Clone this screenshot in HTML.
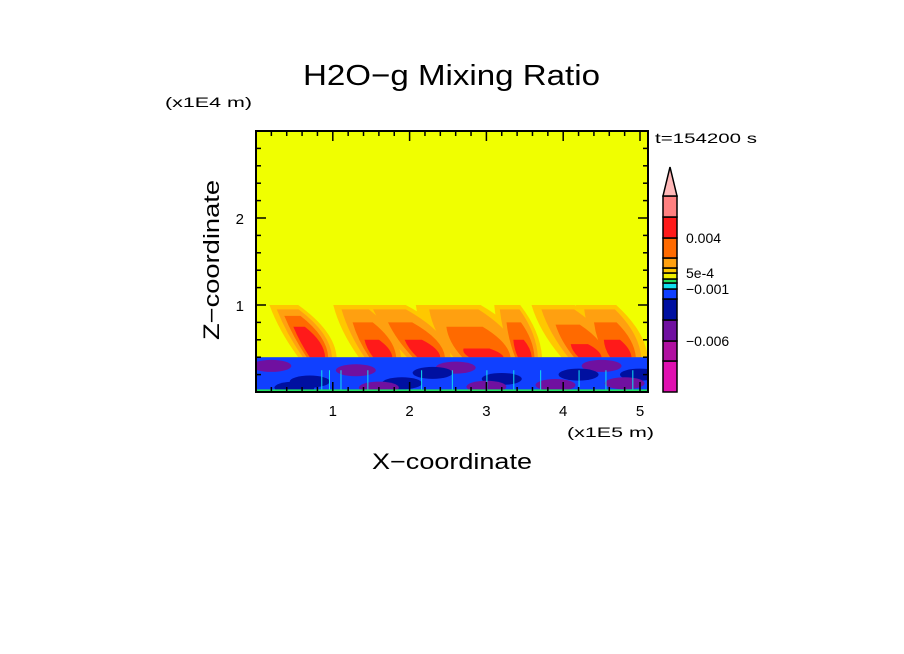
<!DOCTYPE html>
<html><head><meta charset="utf-8"><style>
html,body{margin:0;padding:0;background:#fff;width:904px;height:654px;overflow:hidden}
svg text{font-family:"Liberation Sans",sans-serif;fill:#000}
</style></head><body>
<svg id="chart" width="904" height="654" viewBox="0 0 904 654" xmlns="http://www.w3.org/2000/svg">
<text x="303" y="85" font-size="29" textLength="297" lengthAdjust="spacingAndGlyphs">H2O−g Mixing Ratio</text>
<text x="165" y="107" font-size="14" textLength="87" lengthAdjust="spacingAndGlyphs">(x1E4 m)</text>
<text x="655" y="143" font-size="14" textLength="102" lengthAdjust="spacingAndGlyphs">t=154200 s</text>
<text x="567" y="437" font-size="14" textLength="87" lengthAdjust="spacingAndGlyphs">(x1E5 m)</text>
<text x="372" y="469" font-size="22" textLength="160" lengthAdjust="spacingAndGlyphs">X−coordinate</text>
<text transform="translate(219,340) rotate(-90)" font-size="22" textLength="160" lengthAdjust="spacingAndGlyphs">Z−coordinate</text>
<defs><clipPath id="pc"><rect x="256" y="131" width="392" height="261"/></clipPath></defs>
<g id="field" clip-path="url(#pc)"></g>
<g id="axes"></g>
<g id="cbar"></g>
</svg>
<script>
const xTicks=[1,2,3,4,5];
const zTicks=[1,2];
const layerTop=0.4;
const plumeBase=[0.8,1.65,2.25,3.0,3.5,4.35,4.75];
const plumeHalfWidth=[0.2,0.25,0.3,0.45,0.18,0.3,0.28];
const plumeTop=[1.0,1.0,1.0,1.0,1.0,1.0,1.0];
const plumeLean=[0.35,0.3,0.45,0.3,0.15,0.35,0.2];
const redTop=[0.75,0.6,0.6,0.5,0.6,0.55,0.6];
const cbColors=['#f0f000','#ffc800','#ffa010','#ff6a00','#ff1a1a','#ff8080'];
const lowColors=['#e010b0','#b010a0','#7010a0','#0010a0','#1040ff','#10e0f0','#20e060'];
const cbBounds=[392,361,341,320,299,289,283,279,273,268,258,238,217,196];
const cbLabels=['0.004','5e-4','−0.001','−0.006'];
const cbLabelY=[243,278,294,346];
const NS='http://www.w3.org/2000/svg';
const X=v=>256+v*76.8, Z=v=>392-v*87;
function mk(tag,attrs,parent){const e=document.createElementNS(NS,tag);for(const k in attrs)e.setAttribute(k,attrs[k]);parent.appendChild(e);return e;}
const F=document.getElementById('field');
let bg=mk('rect',{x:256,y:131,width:392,height:261,fill:'#f0ff00'},F);


function plume(i,scale,col,top){
  const b=plumeBase[i],w=plumeHalfWidth[i]*scale,l=plumeLean[i];
  const t=top,frac=(t-layerTop)/(1.0-layerTop);
  const d=`M${X(b-w)},${Z(layerTop)} Q${X(b-w*1.3-l*frac*0.5)},${Z(layerTop+(t-layerTop)*0.5)} ${X(b-w*1.1-l*frac)},${Z(t)} L${X(b+w*0.4-l*frac)},${Z(t)} Q${X(b+w*0.9)},${Z(layerTop+(t-layerTop)*0.5)} ${X(b+w)},${Z(layerTop)} Z`;
  const p=mk('path',{d:d,fill:col},F);
  
  
}
for(let i=0;i<plumeBase.length;i++)plume(i,1.25,'#ffc800',plumeTop[i]);
for(let i=0;i<plumeBase.length;i++)plume(i,0.95,'#ffa010',plumeTop[i]*0.95);
for(let i=0;i<plumeBase.length;i++)plume(i,0.7,'#ff6a00',(plumeTop[i]+redTop[i])/2);
for(let i=0;i<plumeBase.length;i++)plume(i,0.5,'#ff1a1a',redTop[i]);
let bl=mk('rect',{x:256,y:Z(layerTop),width:392,height:Z(0)-Z(layerTop),fill:'#1040ff'},F);


const blobX=[0.2,0.7,1.3,1.9,2.6,3.2,3.9,4.5,5.0,0.5,1.6,2.3,3.0,4.2,4.8];
const blobZ=[0.3,0.12,0.25,0.1,0.28,0.15,0.08,0.3,0.2,0.05,0.05,0.22,0.06,0.2,0.1];
const blobC=['#7010a0','#0010a0','#7010a0','#0010a0','#7010a0','#0010a0','#7010a0','#7010a0','#0010a0','#0010a0','#7010a0','#0010a0','#7010a0','#0010a0','#7010a0'];
for(let i=0;i<blobX.length;i++){
  const e=mk('ellipse',{cx:X(blobX[i]),cy:Z(blobZ[i]),rx:20,ry:6,fill:blobC[i]},F);
  
  
}
const speckX=[0.85,0.95,1.45,2.15,2.55,3.0,3.35,4.2,4.55,4.9,1.1,3.7];
for(const s of speckX){
  const r=mk('rect',{x:X(s),y:Z(0.25),width:1,height:Z(0)-Z(0.25),fill:'#10e0f0'},F);
  
  
}
mk('rect',{x:256,y:Z(0.03),width:392,height:2,fill:'#20e060'},F);
const A=document.getElementById('axes');
let fr=mk('rect',{x:256,y:131,width:392,height:261,fill:'none',stroke:'#000','stroke-width':2},A);


for(let v=0.2;v<5.15;v+=0.2){const x=X(v);const maj=Math.abs(v-Math.round(v))<0.01;const L=maj?10:5;
  mk('line',{x1:x,y1:392,x2:x,y2:392-L,stroke:'#000','stroke-width':1.5},A);
  mk('line',{x1:x,y1:131,x2:x,y2:131+L,stroke:'#000','stroke-width':1.5},A);}
for(let v=0.2;v<3;v+=0.2){const y=Z(v);const maj=Math.abs(v-Math.round(v))<0.01;const L=maj?10:5;
  mk('line',{x1:256,y1:y,x2:256+L,y2:y,stroke:'#000','stroke-width':1.5},A);
  mk('line',{x1:648,y1:y,x2:648-L,y2:y,stroke:'#000','stroke-width':1.5},A);}
for(const t of xTicks){const e=mk('text',{x:X(t),y:416,'font-size':15,'text-anchor':'middle'},A);e.textContent=t;
  
  }
for(const t of zTicks){const e=mk('text',{x:244,y:Z(t)+6,'font-size':15,'text-anchor':'end'},A);e.textContent=t;
  
  }
const C=document.getElementById('cbar');
const allCols=lowColors.concat(cbColors);
for(let i=0;i<allCols.length;i++){
  const r=mk('rect',{x:663,y:cbBounds[i+1],width:14,height:cbBounds[i]-cbBounds[i+1],fill:allCols[i],stroke:'#000','stroke-width':1.5},C);
  
  
}
let tri=mk('polygon',{points:'663,196 677,196 670,167',fill:'#ffb8b8',stroke:'#000','stroke-width':1.5},C);


for(let i=0;i<cbLabels.length;i++){const e=mk('text',{x:686,y:cbLabelY[i],'font-size':14},C);e.textContent=cbLabels[i];
  
  }
</script>
</body></html>
